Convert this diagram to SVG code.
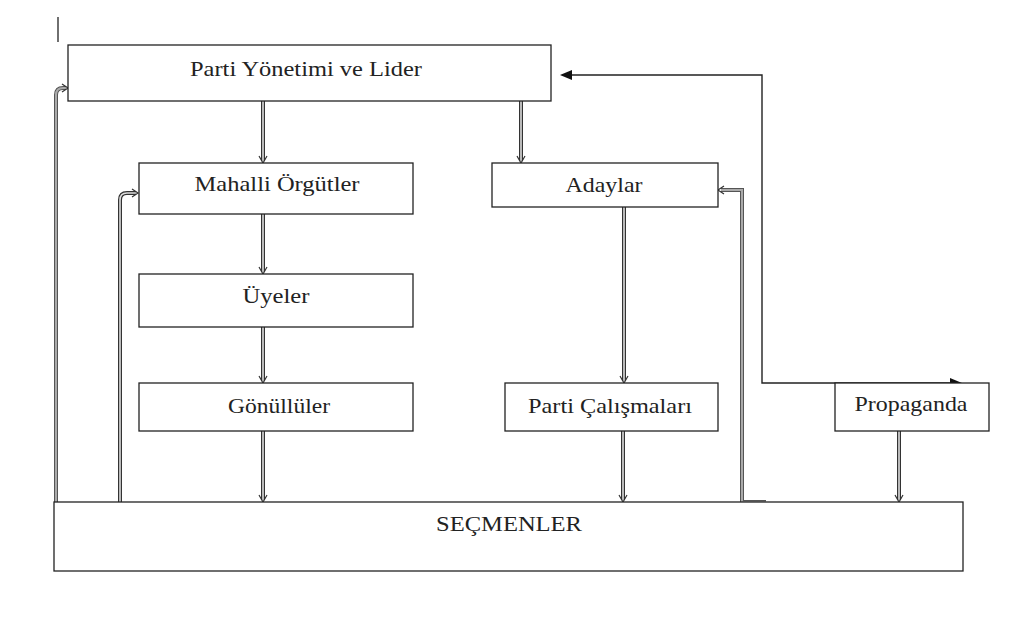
<svg xmlns="http://www.w3.org/2000/svg" width="1016" height="619" viewBox="0 0 1016 619">
<style>
.box{fill:#fff;stroke:#222;stroke-width:1.3}
.t{font-family:"Liberation Serif","Times New Roman",serif;font-size:21px;fill:#222;text-anchor:middle}
.dbo{fill:none;stroke:#333;stroke-width:4}
.dbi{fill:none;stroke:#ddd;stroke-width:1.6}
.gro{fill:none;stroke:#555;stroke-width:4}
.gri{fill:none;stroke:#aaa;stroke-width:2}
.ln{fill:none;stroke:#222;stroke-width:1.4}
.tip{fill:none;stroke:#333;stroke-width:1.2}
</style>
<rect width="1016" height="619" fill="#fff"/>
<line x1="58" y1="17" x2="58" y2="42" stroke="#222" stroke-width="1.3"/>
<g id="connectors">
<path class="dbo" d="M263,101 V161"/><path class="dbi" d="M263,101 V161"/>
<path class="dbo" d="M521,101 V161"/><path class="dbi" d="M521,101 V161"/>
<path class="dbo" d="M263,214 V272"/><path class="dbi" d="M263,214 V272"/>
<path class="dbo" d="M263,327 V381"/><path class="dbi" d="M263,327 V381"/>
<path class="dbo" d="M263,431 V500"/><path class="dbi" d="M263,431 V500"/>
<path class="dbo" d="M624,207 V381"/><path class="dbi" d="M624,207 V381"/>
<path class="dbo" d="M623,431 V500"/><path class="dbi" d="M623,431 V500"/>
<path class="dbo" d="M899,431 V500"/><path class="dbi" d="M899,431 V500"/>
<path class="tip" d="M259,156 L263,163 L267,156 M517,156 L521,163 L525,156 M259,267 L263,274 L267,267 M259,376 L263,383 L267,376 M259,495 L263,502 L267,495 M620,376 L624,383 L628,376 M619,495 L623,502 L627,495 M895,495 L899,502 L903,495"/>
<path class="gro" d="M56,502 V95 Q56,88 63,88 H66"/><path class="gri" d="M56,502 V95 Q56,88 63,88 H66"/>
<path class="tip" d="M62,84 L68,88 L62,92"/>
<path class="dbo" d="M120,502 V200 Q120,193 127,193 H136"/><path class="dbi" d="M120,502 V200 Q120,193 127,193 H136"/>
<path class="tip" d="M132,189 L138,193 L132,197"/>
<path class="gro" d="M766,502 H742 V190 H721"/><path class="gri" d="M766,502 H742 V190 H721"/>
<path class="tip" d="M724,186 L718,190 L724,194"/>
<path class="ln" d="M568,75 H762 V383 H955"/>
<path d="M560,75 L572,70 L572,80 Z" fill="#111"/>
<path d="M962,383 L950,378 L950,388 Z" fill="#111"/>
</g>
<g id="parti"><rect class="box" x="68" y="45" width="483" height="56"/><text class="t" x="306" y="76" textLength="232" lengthAdjust="spacingAndGlyphs">Parti Yönetimi ve Lider</text></g>
<g id="mahalli"><rect class="box" x="139" y="163" width="274" height="51"/><text class="t" x="277" y="191" textLength="165" lengthAdjust="spacingAndGlyphs">Mahalli Örgütler</text></g>
<g id="adaylar"><rect class="box" x="492" y="163" width="226" height="44"/><text class="t" x="604" y="192" textLength="77" lengthAdjust="spacingAndGlyphs">Adaylar</text></g>
<g id="uyeler"><rect class="box" x="139" y="274" width="274" height="53"/><text class="t" x="276" y="303" textLength="67" lengthAdjust="spacingAndGlyphs">Üyeler</text></g>
<g id="gonulluler"><rect class="box" x="139" y="383" width="274" height="48"/><text class="t" x="279" y="413" textLength="102" lengthAdjust="spacingAndGlyphs">Gönüllüler</text></g>
<g id="calismalari"><rect class="box" x="505" y="383" width="213" height="48"/><text class="t" x="610" y="413" textLength="164" lengthAdjust="spacingAndGlyphs">Parti Çalışmaları</text></g>
<g id="propaganda"><rect class="box" x="835" y="383" width="154" height="48"/><text class="t" x="911" y="411" textLength="113" lengthAdjust="spacingAndGlyphs">Propaganda</text></g>
<g id="secmenler"><rect class="box" x="54" y="502" width="909" height="69"/><text class="t" x="509" y="531" textLength="146" lengthAdjust="spacingAndGlyphs">SEÇMENLER</text></g>
</svg>
